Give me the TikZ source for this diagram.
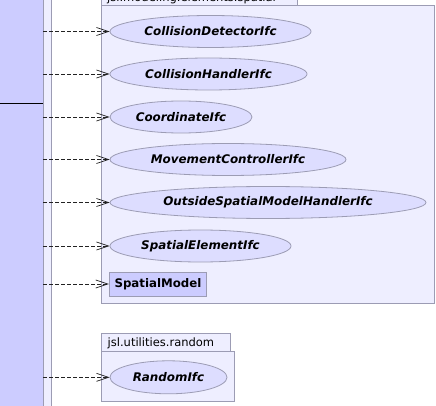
\documentclass[tikz,border=0pt]{standalone}
\usepackage{fontspec}
\setmainfont{DejaVu Sans}
\usetikzlibrary{shapes.geometric,arrows.meta}
\definecolor{barblue}{HTML}{CCCCFF}
\definecolor{pkgfill}{HTML}{EEEEFF}
\definecolor{ellfill}{HTML}{DDDDFF}
\definecolor{bordgray}{HTML}{9C9CB4}
\definecolor{arrowcol}{HTML}{222222}
\tikzset{
  ifc/.style={ellipse, draw=bordgray, fill=ellfill, line width=0.8pt, inner sep=0pt,
    minimum height=32pt, font=\fontsize{11.9}{13}\selectfont\bfseries\itshape},
  cls/.style={rectangle, draw=bordgray, fill=barblue, line width=0.8pt, inner sep=0pt,
    font=\fontsize{11.8}{13}\selectfont\bfseries},
  pkg/.style={draw=bordgray, fill=pkgfill, line width=0.8pt},
  dep/.style={draw=arrowcol, line width=0.7pt, dash pattern=on 4pt off 2pt,
    -{Straight Barb[length=12pt,width=8pt,line width=0.7pt]}},
  tabtext/.style={inner sep=0pt, font=\fontsize{11.5}{13}\selectfont},
}
\begin{document}
\begin{tikzpicture}[x=1pt,y=-1pt]
\useasboundingbox (0,0) rectangle (436,406);
\clip (0,0) rectangle (436,406);
% left bar
\fill[barblue] (0,-5) rectangle (43,411);
\fill[pkgfill] (43,-5) rectangle (51,411);
\draw[bordgray, line width=0.8pt] (43,-5) -- (43,411);
\draw[bordgray, line width=0.8pt] (51,-5) -- (51,411);
\draw[black, line width=0.8pt] (0,103.3) -- (43,103.3);
% package 1
\draw[pkg] (101,-20) rectangle (297,5.5);
\node[tabtext, anchor=base west] (t1) at (107,1.3) {jsl.modeling.elements.spatial};
\draw[pkg] (101,5.5) rectangle (434,303);
% package 2
\draw[pkg] (101,333.3) rectangle (230,351.3);
\node[tabtext, anchor=base west] (t2) at (107.5,346) {jsl.utilities.random};
\draw[pkg] (101,351.3) rectangle (234.7,401);
% interfaces
\node[ifc, minimum width=201pt] (e1) at (210.5,31.5) {CollisionDetectorIfc};
\node[ifc, minimum width=197pt] (e2) at (208.5,74) {CollisionHandlerIfc};
\node[ifc, minimum width=142pt] (e3) at (181,117) {CoordinateIfc};
\node[ifc, minimum width=236pt] (e4) at (228,159.5) {MovementControllerIfc};
\node[ifc, minimum width=316pt] (e5) at (268,202.5) {OutsideSpatialModelHandlerIfc};
\node[ifc, minimum width=181pt] (e6) at (200.5,246) {SpatialElementIfc};
\node[cls, minimum width=97.5pt, minimum height=24pt] (e7) at (158,284) {SpatialModel};
\node[ifc, minimum width=117pt, minimum height=33pt] (e8) at (168.5,377.3) {RandomIfc};
% sources
\coordinate (s1) at (43,31.5);
\coordinate (s2) at (43,74);
\coordinate (s3) at (43,117);
\coordinate (s4) at (43,159.5);
\coordinate (s5) at (43,202.5);
\coordinate (s6) at (43,246);
\coordinate (s7) at (43,284);
\coordinate (s8) at (43,377.3);
\draw[dep] (s1) -- (e1.west);
\draw[dep] (s2) -- (e2.west);
\draw[dep] (s3) -- (e3.west);
\draw[dep] (s4) -- (e4.west);
\draw[dep] (s5) -- (e5.west);
\draw[dep] (s6) -- (e6.west);
\draw[dep] (s7) -- (e7.west);
\draw[dep] (s8) -- (e8.west);
\end{tikzpicture}
\end{document}
